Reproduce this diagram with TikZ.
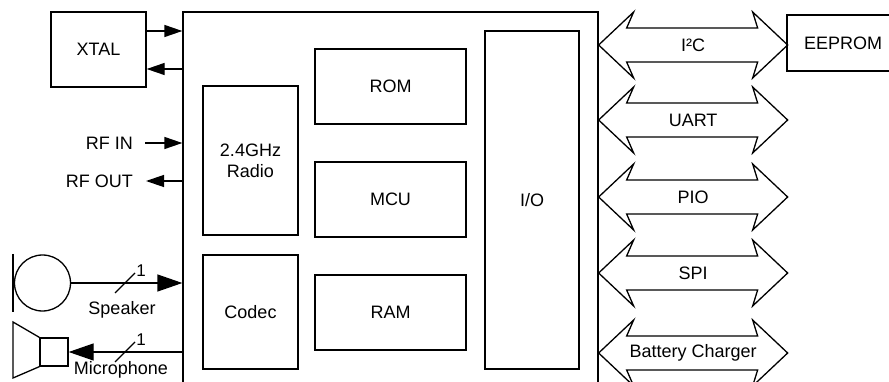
\documentclass[tikz,border=0pt]{standalone}
\usepackage{fontspec}
\setmainfont{Liberation Sans}
\usetikzlibrary{arrows.meta,calc}
\tikzset{
  lw/.style={line width=1.3pt},
  blk/.style={draw,lw,rectangle,inner sep=0pt,font=\fontsize{18}{21}\selectfont},
  lbl/.style={inner sep=0pt,font=\fontsize{18}{21}\selectfont},
  onelbl/.style={inner sep=0pt,font=\fontsize{17}{20}\selectfont},
  arr/.style={lw,-{Triangle[length=18pt,width=12pt]}},
  bigarr/.style={lw,-{Triangle[length=25pt,width=17pt]}},
  bus/.style={draw,lw,line join=miter},
}
\newcommand\busarrow[3]{%
  \coordinate (#1L) at (chip.east |- 0,#2);
  \draw[bus] (#1L) -- ++(35,-33) -- ++(-7,16) -- ++(131,0) -- ++(-5,-16) -- ++(35,33)
    -- ++(-35,33) -- ++(5,-16) -- ++(-131,0) -- ++(7,16) -- cycle;
  \node[lbl] (#1) at ($(#1L)+(94.5,0)$) {#3};
}
\begin{document}
\begin{tikzpicture}[x=1pt,y=-1pt]
\useasboundingbox (0,0) rectangle (889,382);
\clip (0,0) rectangle (889,382);
% main chip
\node[blk,minimum width=415pt,minimum height=388pt] (chip) at (390.5,206) {};
% inner blocks
\node[blk,minimum width=95pt,minimum height=149pt,align=center] (radio) at (250.5,160.5) {2.4GHz\\Radio};
\node[blk,minimum width=95pt,minimum height=114pt] (codec) at (250.5,312) {Codec};
\node[blk,minimum width=151pt,minimum height=75pt] (rom) at (390.5,86.5) {ROM};
\node[blk,minimum width=151pt,minimum height=75pt] (mcu) at (390.5,199.5) {MCU};
\node[blk,minimum width=151pt,minimum height=75pt] (ram) at (390.5,312.5) {RAM};
\node[blk,minimum width=94pt,minimum height=338pt] (io) at (532,200) {I/O};
% external blocks
\node[blk,minimum width=95pt,minimum height=75pt] (xtal) at (98.5,49.5) {XTAL};
\node[blk,minimum width=112pt,minimum height=56pt] (eeprom) at (843,43) {EEPROM};
% xtal arrows
\draw[arr] (xtal.east |- 0,31) -- (chip.west |- 0,31);
\draw[arr] (chip.west |- 0,69) -- (xtal.east |- 0,69);
% RF
\node[lbl,anchor=east] (rfin) at (133,143) {RF IN};
\node[lbl,anchor=east] (rfout) at (133,181) {RF OUT};
\draw[arr] ([xshift=12pt]rfin.east) -- (chip.west |- rfin.east);
\draw[arr] (chip.west |- rfout.east) -- ([xshift=13pt]rfout.east);
% speaker
\node[draw,lw,circle,minimum size=56pt,inner sep=0pt] (spk) at (42.5,283) {};
\coordinate (spkbarT) at (13,254);
\coordinate (spkbarB) at (13,312);
\draw[lw] (spkbarT) -- (spkbarB);
\draw[bigarr] (spk.east) -- (chip.west |- spk.east);
\coordinate (s1) at (125,283);
\draw[lw] ($(s1)+(-10,10)$) -- ($(s1)+(10,-10)$);
\node[onelbl] (s1lbl) at ($(s1)+(16,-12)$) {1};
\node[lbl] (spklbl) at (122,309.5) {Speaker};
% microphone
\node[draw,lw,rectangle,minimum size=28pt,inner sep=0pt] (mic) at (54,352) {};
\coordinate (micT) at (13,322);
\coordinate (micB) at (13,378);
\draw[lw,line join=miter] (mic.north west) -- (micT) -- (micB) -- (mic.south west);
\draw[bigarr] (chip.west |- mic.east) -- (mic.east);
\coordinate (m1) at (125,352);
\draw[lw] ($(m1)+(-10,10)$) -- ($(m1)+(10,-10)$);
\node[onelbl] (m1lbl) at ($(m1)+(16,-12)$) {1};
\node[lbl] (miclbl) at (121,370) {Microphone};
% buses
\busarrow{i2c}{45}{I²C}
\busarrow{uart}{120}{UART}
\busarrow{pio}{197}{PIO}
\busarrow{spi}{273}{SPI}
\busarrow{batt}{353}{Battery Charger}
\end{tikzpicture}
\end{document}
